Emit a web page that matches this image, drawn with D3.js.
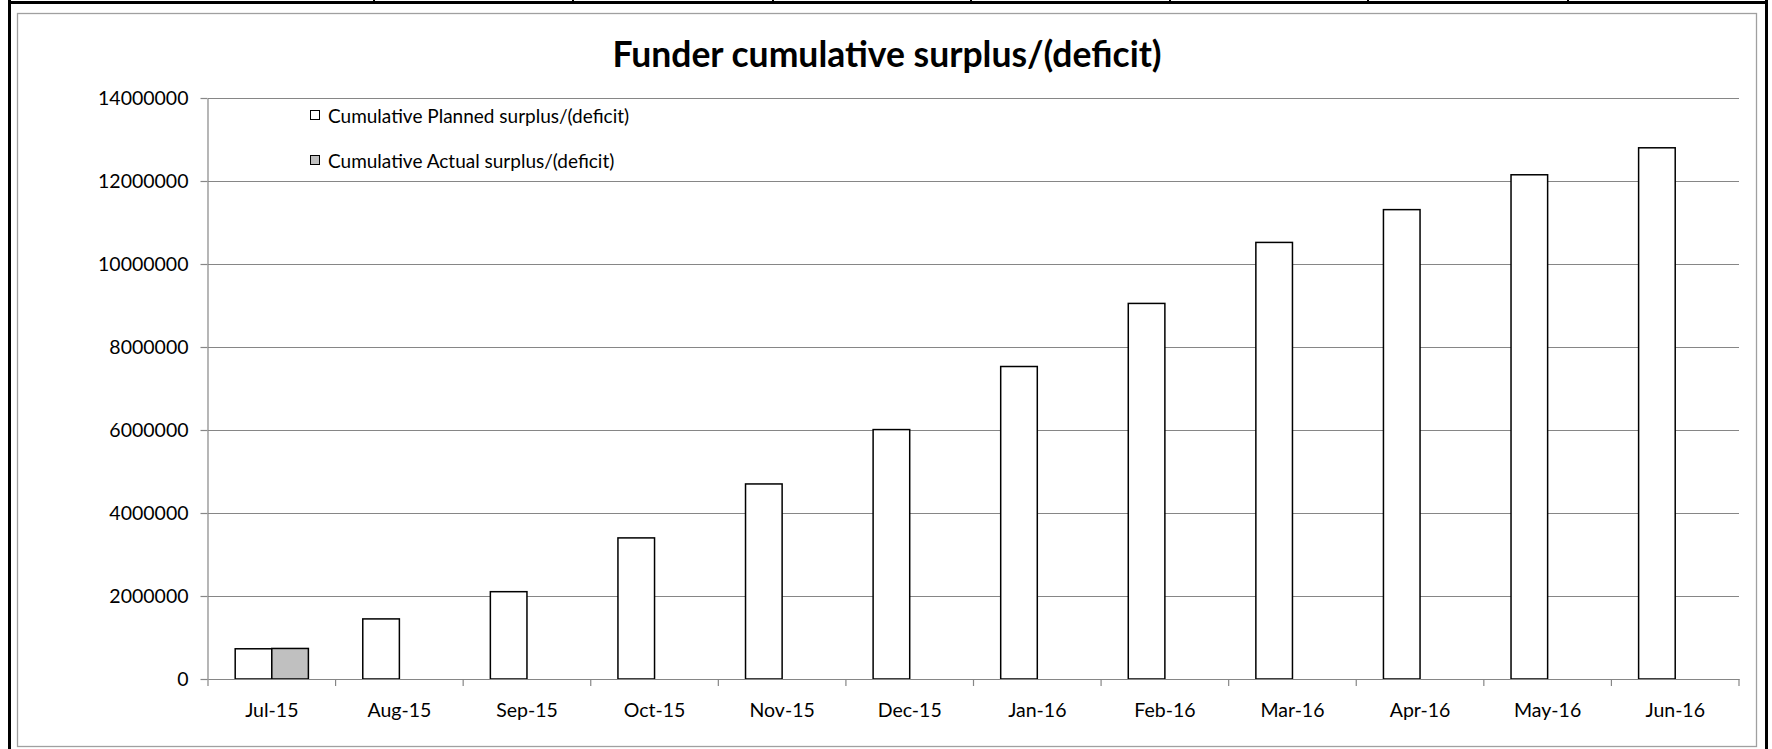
<!DOCTYPE html>
<html>
<head>
<meta charset="utf-8">
<script src="https://cdn.jsdelivr.net/npm/d3@7/dist/d3.min.js"></script>
<style>
  html, body { margin: 0; padding: 0; background: #ffffff; }
  svg { display: block; }
  text { font-family: Lato, "Open Sans", sans-serif; fill: #000; }
</style>
</head>
<body>
<svg id="chart" width="1772" height="749"></svg>
<script>
// ---- data ----
const chartTitle = "Funder cumulative surplus/(deficit)";
const categories = ["Jul-15","Aug-15","Sep-15","Oct-15","Nov-15","Dec-15","Jan-16","Feb-16","Mar-16","Apr-16","May-16","Jun-16"];
const seriesNames = ["Cumulative Planned surplus/(deficit)", "Cumulative Actual surplus/(deficit)"];
const plannedValues = [728000, 1448000, 2104000, 3400000, 4700000, 6010000, 7530000, 9050000, 10520000, 11310000, 12150000, 12800000];
const actualValues  = [736000, null, null, null, null, null, null, null, null, null, null, null];
const yTickValues = [0, 2000000, 4000000, 6000000, 8000000, 10000000, 12000000, 14000000];
const seriesFill = ["#ffffff", "#c0c0c0"];

// ---- layout ----
const svg = d3.select("#chart");
const W = 1772, H = 749;
const plot = { left: 208, right: 1739, top: 98, bottom: 679 };
const gridColor = "#868686";

// spreadsheet frame around the chart object
svg.append("rect").attr("x", 8).attr("y", 0).attr("width", 3).attr("height", H).attr("fill", "#000");
svg.append("rect").attr("x", 1765).attr("y", 0).attr("width", 3).attr("height", H).attr("fill", "#000");
svg.append("rect").attr("x", 8).attr("y", 1).attr("width", 1760).attr("height", 3).attr("fill", "#000");
[373, 572, 772, 970, 1169, 1367, 1567].forEach(xx => {
  svg.append("rect").attr("x", xx).attr("y", 0).attr("width", 2).attr("height", 2).attr("fill", "#000");
});

// chart area border
svg.append("rect")
  .attr("x", 17.5).attr("y", 13.5).attr("width", 1739).attr("height", 733)
  .attr("fill", "#fff").attr("stroke", "#a0a0a0").attr("stroke-width", 1.3);

// title
svg.append("text")
  .attr("x", 887).attr("y", 67)
  .attr("text-anchor", "middle")
  .style("font-size", "35.5px").style("font-weight", "bold")
  .text(chartTitle);

// scales
const x = d3.scaleBand().domain(categories).range([plot.left, plot.right]).paddingInner(0).paddingOuter(0);
const xSub = d3.scaleBand().domain([0, 1]).range([0, x.bandwidth()]).paddingInner(0).paddingOuter(0.743);
const y = d3.scaleLinear().domain([0, 14000000]).range([plot.bottom, plot.top]);

// gridlines
const grid = svg.append("g").attr("transform", `translate(${plot.left},0)`)
  .call(d3.axisLeft(y).tickValues(yTickValues.filter(v => v > 0)).tickSize(-(plot.right - plot.left)).tickFormat(""));
grid.select(".domain").remove();
grid.selectAll("line").attr("stroke", gridColor).attr("stroke-width", 1.2);

// y axis
const yAxis = svg.append("g").attr("transform", `translate(${plot.left - 0.5},0)`)
  .call(d3.axisLeft(y).tickValues(yTickValues).tickSize(7).tickSizeOuter(0).tickPadding(12).tickFormat(d3.format("d")));
yAxis.select(".domain").attr("stroke", gridColor).attr("stroke-width", 1.2);
yAxis.selectAll(".tick line").attr("stroke", gridColor).attr("stroke-width", 1.2);
yAxis.selectAll("text").style("font-size", "19.5px").style("font-family", "Lato, 'Open Sans', sans-serif").attr("fill", "#000");

// bars
const seriesData = [plannedValues, actualValues];
seriesData.forEach((vals, si) => {
  svg.append("g").selectAll("rect")
    .data(categories.map((c, i) => ({ c, v: vals[i] })).filter(d => d.v != null))
    .join("rect")
    .attr("x", d => x(d.c) + xSub(si))
    .attr("width", xSub.bandwidth())
    .attr("y", d => y(d.v))
    .attr("height", d => y(0) - y(d.v))
    .attr("fill", seriesFill[si])
    .attr("stroke", "#000")
    .attr("stroke-width", 1.5);
});

// x axis
const xAxis = svg.append("g").attr("transform", `translate(0,${plot.bottom})`)
  .call(d3.axisBottom(x).tickSize(0).tickPadding(24));
xAxis.select(".domain").attr("stroke", gridColor).attr("stroke-width", 1.2);
xAxis.selectAll("text").style("font-size", "19.5px").style("font-family", "Lato, 'Open Sans', sans-serif").attr("fill", "#000");
// tick marks at category boundaries
const boundaries = categories.map(c => x(c)).concat([x(categories[categories.length - 1]) + x.bandwidth()]);
svg.append("g").selectAll("line").data(boundaries).join("line")
  .attr("x1", d => d).attr("x2", d => d)
  .attr("y1", plot.bottom).attr("y2", plot.bottom + 7)
  .attr("stroke", gridColor).attr("stroke-width", 1.2);

// legend
const legend = svg.append("g");
seriesNames.forEach((name, i) => {
  const ly = 116 + i * 45;
  legend.append("rect")
    .attr("x", 310.5).attr("y", ly - 5.5).attr("width", 9).attr("height", 9)
    .attr("fill", seriesFill[i]).attr("stroke", "#000").attr("stroke-width", 1);
  legend.append("text")
    .attr("x", 328).attr("y", ly + 7)
    .style("font-size", "19px")
    .text(name);
});
</script>
</body>
</html>
